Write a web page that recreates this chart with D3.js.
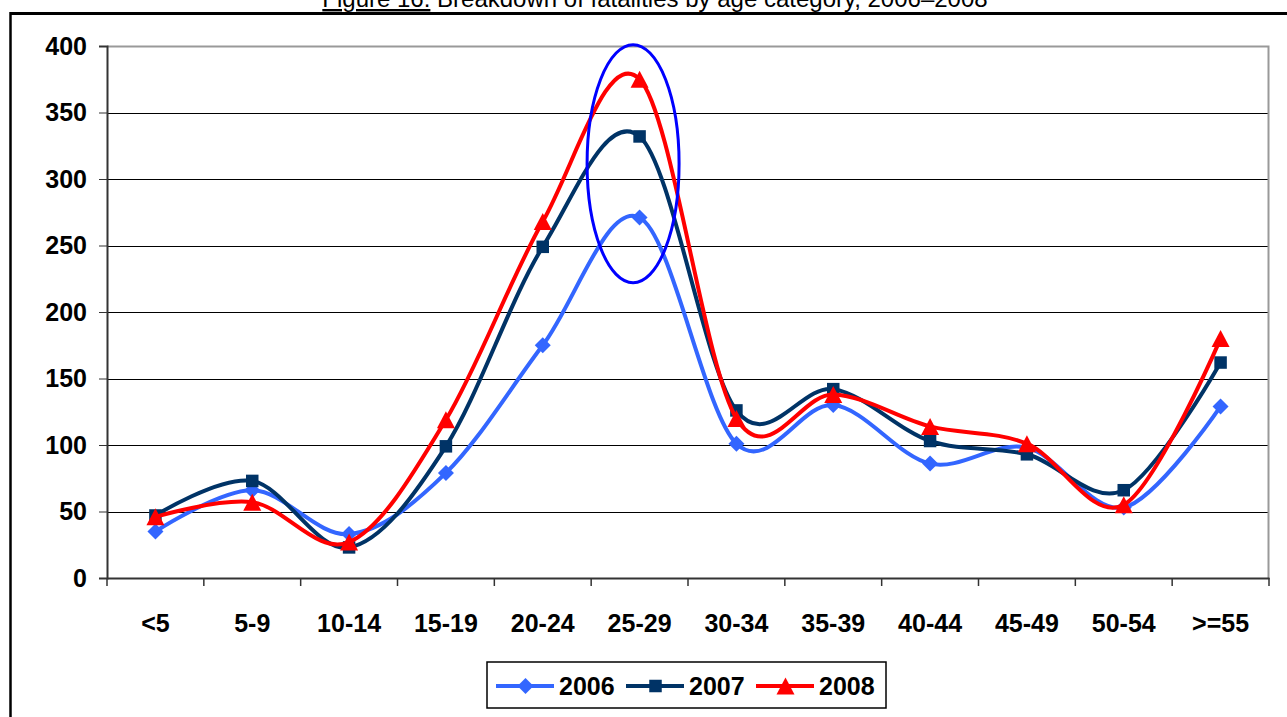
<!DOCTYPE html>
<html>
<head>
<meta charset="utf-8">
<script src="https://cdn.jsdelivr.net/npm/d3@7"></script>
<style>
  html, body { margin: 0; padding: 0; background: #fff; }
  svg { display: block; }
  text { font-family: "Liberation Sans", Arial, sans-serif; }
</style>
</head>
<body>
<svg id="chart" width="1287" height="717"></svg>
<script>
// Age categories on the x axis
const categories = ["<5", "5-9", "10-14", "15-19", "20-24", "25-29", "30-34", "35-39", "40-44", "45-49", "50-54", ">=55"];

// Fatalities per age category, one array per year
const values2006 = [35, 66, 33, 79, 175, 271, 101, 130, 86, 98, 53, 129];
const values2007 = [47, 73, 23, 99, 249, 332, 126, 142, 103, 93, 66, 162];
const values2008 = [46, 57, 27, 119, 268, 375, 120, 138, 114, 101, 55, 180];

const years = ["2006", "2007", "2008"];
const yTicks = [0, 50, 100, 150, 200, 250, 300, 350, 400];

// Highlighted peak range (values covered by the annotation ellipse)
const highlightCategory = "25-29";
const highlightRange = [222, 401];

const series = [
  { name: years[0], values: values2006, color: "#3366FF", marker: "diamond" },
  { name: years[1], values: values2007, color: "#003366", marker: "square" },
  { name: years[2], values: values2008, color: "#FF0000", marker: "triangle" }
];

const svg = d3.select("#chart");
const plot = { left: 107, right: 1269, top: 46, bottom: 578 };

const x = d3.scaleBand().domain(categories).range([plot.left, plot.right]);
const y = d3.scaleLinear().domain([0, 400]).range([plot.bottom, plot.top]);
const cx = c => x(c) + x.bandwidth() / 2;

// Outer frame (top and left rules)
svg.append("line").attr("x1", 10).attr("x2", 1287).attr("y1", 13.5).attr("y2", 13.5)
  .attr("stroke", "#000").attr("stroke-width", 3);
svg.append("line").attr("x1", 10.5).attr("x2", 10.5).attr("y1", 12).attr("y2", 717)
  .attr("stroke", "#000").attr("stroke-width", 2.5);

// Title, partly above the frame
const title = svg.append("text").attr("x", 655).attr("y", 7).attr("text-anchor", "middle")
  .attr("font-size", 24).attr("fill", "#000");
title.append("tspan").attr("text-decoration", "underline").text("Figure 16.");
title.append("tspan").text(" Breakdown of fatalities by age category, 2006\u20132008");

// Horizontal gridlines
svg.append("g").selectAll("line").data(yTicks.filter(t => t > 0 && t < 400)).join("line")
  .attr("x1", plot.left).attr("x2", plot.right)
  .attr("y1", d => Math.round(y(d)) + 0.5).attr("y2", d => Math.round(y(d)) + 0.5)
  .attr("stroke", "#000").attr("stroke-width", 1);

// Plot area border on top and right
svg.append("path")
  .attr("d", `M${plot.left},${plot.top + 0.5}H${plot.right - 0.5}V${plot.bottom}`)
  .attr("fill", "none").attr("stroke", "#999").attr("stroke-width", 2);

// Y axis
const yAxis = svg.append("g").attr("transform", `translate(${plot.left},0)`)
  .call(d3.axisLeft(y).tickValues(yTicks).tickSize(8).tickPadding(12));
yAxis.select(".domain").attr("stroke", "#333").attr("stroke-width", 2);
yAxis.selectAll(".tick line").attr("stroke", "#333").attr("stroke-width", 1);
yAxis.selectAll(".tick text").attr("font-size", 25).attr("font-weight", "bold")
  .attr("fill", "#000").attr("font-family", "Liberation Sans, Arial, sans-serif");

// X axis with ticks on category boundaries
const xAxis = svg.append("g").attr("transform", `translate(0,${plot.bottom})`)
  .call(d3.axisBottom(x).tickSize(0).tickPadding(36));
xAxis.select(".domain").attr("stroke", "#333").attr("stroke-width", 2);
xAxis.selectAll(".tick text").attr("font-size", 25).attr("font-weight", "bold")
  .attr("fill", "#000").attr("font-family", "Liberation Sans, Arial, sans-serif");
const boundaries = categories.map(c => x(c)).concat([plot.right]);
svg.append("g").selectAll("line").data(boundaries).join("line")
  .attr("x1", d => d).attr("x2", d => d)
  .attr("y1", plot.bottom).attr("y2", plot.bottom + 8)
  .attr("stroke", "#333").attr("stroke-width", 1.5);

// Smoothed series lines
const line = d3.line()
  .x((d, i) => cx(categories[i]))
  .y(d => y(d))
  .curve(d3.curveCardinal.tension(0));

function drawMarker(g, type, px, py, color) {
  if (type === "diamond") {
    const r = 8;
    g.append("path").attr("d", `M${px},${py - r}L${px + r},${py}L${px},${py + r}L${px - r},${py}Z`)
      .attr("fill", color);
  } else if (type === "square") {
    const s = 12.5;
    g.append("rect").attr("x", px - s / 2).attr("y", py - s / 2).attr("width", s).attr("height", s)
      .attr("fill", color);
  } else {
    const w = 18, h = 17;
    g.append("path").attr("d", `M${px},${py - h / 2}L${px + w / 2},${py + h / 2}L${px - w / 2},${py + h / 2}Z`)
      .attr("fill", color);
  }
}

const seriesG = svg.append("g");
series.forEach(s => {
  const g = seriesG.append("g");
  g.append("path").attr("d", line(s.values)).attr("fill", "none")
    .attr("stroke", s.color).attr("stroke-width", 4).attr("stroke-linejoin", "round");
  s.values.forEach((v, i) => drawMarker(g, s.marker, cx(categories[i]), y(v), s.color));
});

// Annotation ellipse around the peak
const eTop = y(highlightRange[1]), eBottom = y(highlightRange[0]);
svg.append("ellipse")
  .attr("cx", cx(highlightCategory) - 6.5)
  .attr("cy", (eTop + eBottom) / 2)
  .attr("rx", x.bandwidth() * 0.475)
  .attr("ry", (eBottom - eTop) / 2)
  .attr("fill", "none").attr("stroke", "#0000FF").attr("stroke-width", 3);

// Legend
const legend = svg.append("g");
legend.append("rect").attr("x", 487).attr("y", 662).attr("width", 399).attr("height", 46)
  .attr("fill", "#fff").attr("stroke", "#000").attr("stroke-width", 1.5);
const legendX = [496, 626, 756];
series.forEach((s, i) => {
  const lx = legendX[i], ly = 686;
  legend.append("line").attr("x1", lx).attr("x2", lx + 58).attr("y1", ly).attr("y2", ly)
    .attr("stroke", s.color).attr("stroke-width", 4);
  drawMarker(legend, s.marker, lx + 29.5, ly, s.color);
  legend.append("text").attr("x", lx + 63).attr("y", ly + 9)
    .attr("font-size", 25).attr("font-weight", "bold").attr("fill", "#000").text(s.name);
});
</script>
</body>
</html>
